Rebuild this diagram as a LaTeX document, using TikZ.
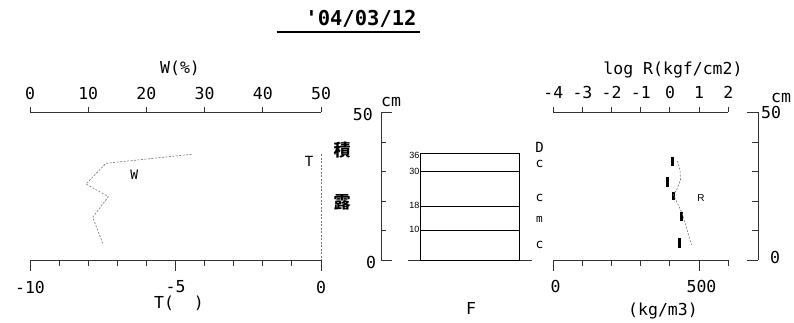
\documentclass[tikz,border=0pt]{standalone}
\usepackage{fontspec}
\setmainfont{DejaVu Sans Mono}[Ligatures=TeXOff]
\newfontfamily\sansf{Liberation Sans}
\newfontfamily\jpf{Noto Sans CJK JP}
\begin{document}
\begin{tikzpicture}[x=1pt,y=-1pt,
  axis/.style={line width=1pt,draw=black!80},
  lab/.style={inner sep=0pt,font=\fontsize{16.5}{16.5}\selectfont},
  small/.style={inner sep=0pt,font=\sansf\fontsize{9}{9}\selectfont},
  dline/.style={draw=black!55,line width=0.6pt,dash pattern=on 2pt off 1.5pt},
  bar/.style={line width=2.6pt,draw=black},
  layer/.style={line width=1pt,draw=black},
  kanji/.style={inner sep=0pt,font=\jpf\bfseries\fontsize{17}{17}\selectfont}]
\useasboundingbox (0,0) rectangle (794,322);
% title
\node[inner sep=0pt,font=\bfseries\fontsize{20.5}{20.5}\selectfont] (title) at (361,19) {'04/03/12};
\draw[line width=2pt] (276.7,31.7) -- (420,31.7);
% ---------- left chart ----------
\node[lab] (wlab) at (180,68) {W(\%)};
\draw[axis] (30,112) -- (321,112);
\foreach \i/\t in {0/0,1/10,2/20,3/30,4/40,5/50}{
  \draw[axis] (30+58.2*\i,112) -- (30+58.2*\i,106.5);
  \node[lab] (wt\i) at (30+58.2*\i,93) {\t};
}
\draw[axis] (30,260) -- (321,260);
\foreach \i in {0,...,10}{
  \pgfmathsetmacro{\len}{ifthenelse(mod(\i,5)==0,271,265.5)}
  \draw[axis] (30+29.1*\i,260) -- (30+29.1*\i,\len);
}
\node[lab] (tt0) at (30,287) {-10};
\node[lab] (tt5) at (175.5,287) {-5};
\node[lab] (tt10) at (321,287) {0};
\node[lab] (tlab) at (179,303) {T(\hspace{20pt})};
\coordinate (tt) at (321,154);
\coordinate (tb) at (321,260);
\draw[dline] (tt) -- (tb);
\node[lab,font=\fontsize{14}{14}\selectfont] (tname) at (309,161) {T};
\draw[dline] (191.7,154.3) -- (106,163.3) -- (86,184) -- (108.3,196.7) -- (92.7,217.3) -- (102.7,243.3);
\node[lab,font=\fontsize{13}{13}\selectfont] (wname) at (134.3,175) {W};
\node[kanji] (k1) at (342,150) {積};
\node[kanji] (k2) at (342,202) {露};
% ---------- middle chart ----------
\draw[axis] (381,112.7) -- (381,260);
\foreach \d in {0,50}{\draw[axis] (381,260-2.947*\d) -- (392,260-2.947*\d);}
\foreach \d in {10,20,30,40}{\draw[axis] (381,260-2.947*\d) -- (385.5,260-2.947*\d);}
\node[lab,anchor=east] (c50) at (373,114) {50};
\node[lab] (ccm) at (391,102) {cm};
\node[lab] (c0) at (371,262) {0};
\draw[axis] (408,260) -- (532,260);
\draw[layer] (420.7,153.9) rectangle (519,260);
\foreach \d in {30,18,10}{\draw[layer] (420.7,260-2.947*\d) -- (519,260-2.947*\d);}
\node[small,anchor=east] (l36) at (419.5,155) {36};
\node[small,anchor=east] (l30) at (419.5,171.7) {30};
\node[small,anchor=east] (l18) at (419.5,205.7) {18};
\node[small,anchor=east] (l10) at (419.5,229.3) {10};
\node[lab,font=\fontsize{14}{14}\selectfont] (gD) at (539.5,147) {D};
\node[lab,font=\fontsize{13}{13}\selectfont] (g1) at (539.5,164) {c};
\node[lab,font=\fontsize{13}{13}\selectfont] (g2) at (539.5,198.3) {c};
\node[lab,font=\fontsize{11}{11}\selectfont] (g3) at (539.5,219.3) {m};
\node[lab,font=\fontsize{13}{13}\selectfont] (g4) at (539.5,245.3) {c};
\node[lab] (flab) at (471,308) {F};
% ---------- right chart ----------
\node[lab] (rlab) at (673,70) {log R(kgf/cm2)};
\draw[axis] (553.3,112) -- (728.3,112);
\foreach \i/\t in {0/-4,1/-3,2/-2,3/-1,4/0,5/1,6/2}{
  \draw[axis] (553.3+29.17*\i,112) -- (553.3+29.17*\i,106.5);
  \node[lab] (rt\i) at (553.3+29.17*\i,92) {\t};
}
\draw[axis] (553.3,260) -- (728.3,260);
\foreach \i in {0,...,6}{
  \pgfmathsetmacro{\len}{ifthenelse(\i==0||\i==5,271,266)}
  \draw[axis] (553.3+29.17*\i,260) -- (553.3+29.17*\i,\len);
}
\node[lab] (dt0) at (555.5,286) {0};
\node[lab] (dt5) at (701.5,286) {500};
\node[lab] (dlab) at (663,311) {(kg/m3)};
\draw[axis] (758.3,112) -- (758.3,260);
\foreach \d in {0,50}{\draw[axis] (758.3,260-2.947*\d) -- (746.7,260-2.947*\d);}
\foreach \d in {10,20,30,40}{\draw[axis] (758.3,260-2.947*\d) -- (751.5,260-2.947*\d);}
\node[lab] (r50) at (771,112) {50};
\node[lab] (rcm) at (781,98) {cm};
\node[lab] (r0) at (775,257.5) {0};
\draw[bar] (672.3,156.7) -- (672.3,165.7);
\draw[bar] (667.3,176.7) -- (667.3,187.3);
\draw[bar] (673.3,191.7) -- (673.3,200);
\draw[bar] (681.7,211.7) -- (681.7,221);
\draw[bar] (679.3,238.3) -- (679.3,248.3);
\draw[dline] (677.5,161) -- (680,170) -- (680.5,180) -- (677,189) -- (673.5,195) -- (682,213) -- (691.5,245);
\node[small,font=\sansf\fontsize{10}{10}\selectfont] (rname) at (701,198) {R};
\end{tikzpicture}
\end{document}
